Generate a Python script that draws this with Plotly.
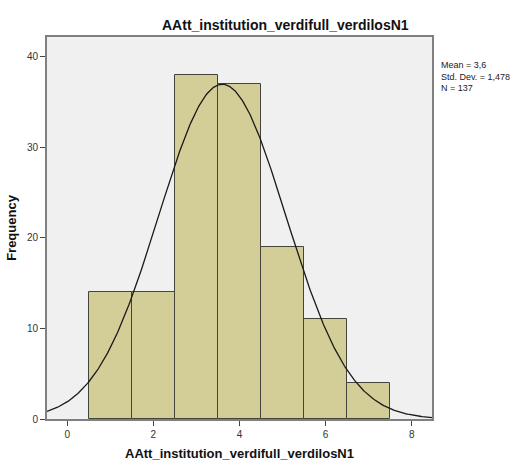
import numpy as np
import plotly.graph_objects as go

# Data
bin_centers = [1, 2, 3, 4, 5, 6, 7]
frequencies = [14, 14, 38, 37, 19, 11, 4]
mean_val = 3.6
std_val = 1.478
n_val = 137
bin_width = 1.0
x_ticks = [0, 2, 4, 6, 8]
y_ticks = [0, 10, 20, 30, 40]

title = "AAtt_institution_verdifull_verdilosN1"

xc = np.linspace(-0.47, 8.47, 400)
yc = n_val * bin_width / (std_val * np.sqrt(2 * np.pi)) * np.exp(-0.5 * ((xc - mean_val) / std_val) ** 2)

fig = go.Figure()
fig.add_trace(go.Bar(
    x=bin_centers, y=frequencies, width=bin_width,
    marker=dict(color="#D3CE98", line=dict(color="#44443a", width=1)),
    showlegend=False, hoverinfo="skip",
))
fig.add_trace(go.Scatter(
    x=xc, y=yc, mode="lines", line=dict(color="#1a1a1a", width=1.3),
    showlegend=False, hoverinfo="skip", cliponaxis=True,
))

L, R, T, B = 47, 93, 37, 53
W, H = 525, 472
pw = W - L - R
ph = H - T - B

fig.update_layout(
    width=W, height=H,
    margin=dict(l=L, r=R, t=T, b=B, autoexpand=False),
    paper_bgcolor="white", plot_bgcolor="#F0F0F0",
    font=dict(family="Liberation Sans, Arial, sans-serif", color="#222"),
    bargap=0,
    xaxis=dict(
        range=[-0.47, 8.47], tickvals=x_ticks, ticks="outside", ticklen=5,
        tickcolor="#444", tickfont=dict(size=10, color="#333"),
        showgrid=False, zeroline=False, showline=True, linecolor="#808080", linewidth=1.8,
        mirror=True, automargin=False,
        title=dict(text="<b>AAtt_institution_verdifull_verdilosN1</b>", font=dict(size=13, color="#111"), standoff=10),
    ),
    yaxis=dict(
        range=[0, 42.2], tickvals=y_ticks, ticks="outside", ticklen=5,
        tickcolor="#444", tickfont=dict(size=10, color="#333"),
        showgrid=False, zeroline=False, showline=True, linecolor="#808080", linewidth=1.8,
        mirror=True, automargin=False,
        title=dict(text="<b>Frequency</b>", font=dict(size=13, color="#111"), standoff=7),
    ),
    annotations=[
        dict(text="<b>" + title + "</b>", x=(285 - L) / pw, y=(H - B - 25) / ph,
             xref="paper", yref="paper", xanchor="center", yanchor="middle",
             showarrow=False, font=dict(size=14, color="#111")),
        dict(text="Mean = 3,6<br>Std. Dev. = 1,478<br>N = 137",
             x=1.0, y=(H - B - 58) / ph, xref="paper", yref="paper",
             xanchor="left", yanchor="top",
             xshift=7, align="left", showarrow=False,
             font=dict(size=9, color="#222")),
    ],
)

fig.write_html("out.html")
